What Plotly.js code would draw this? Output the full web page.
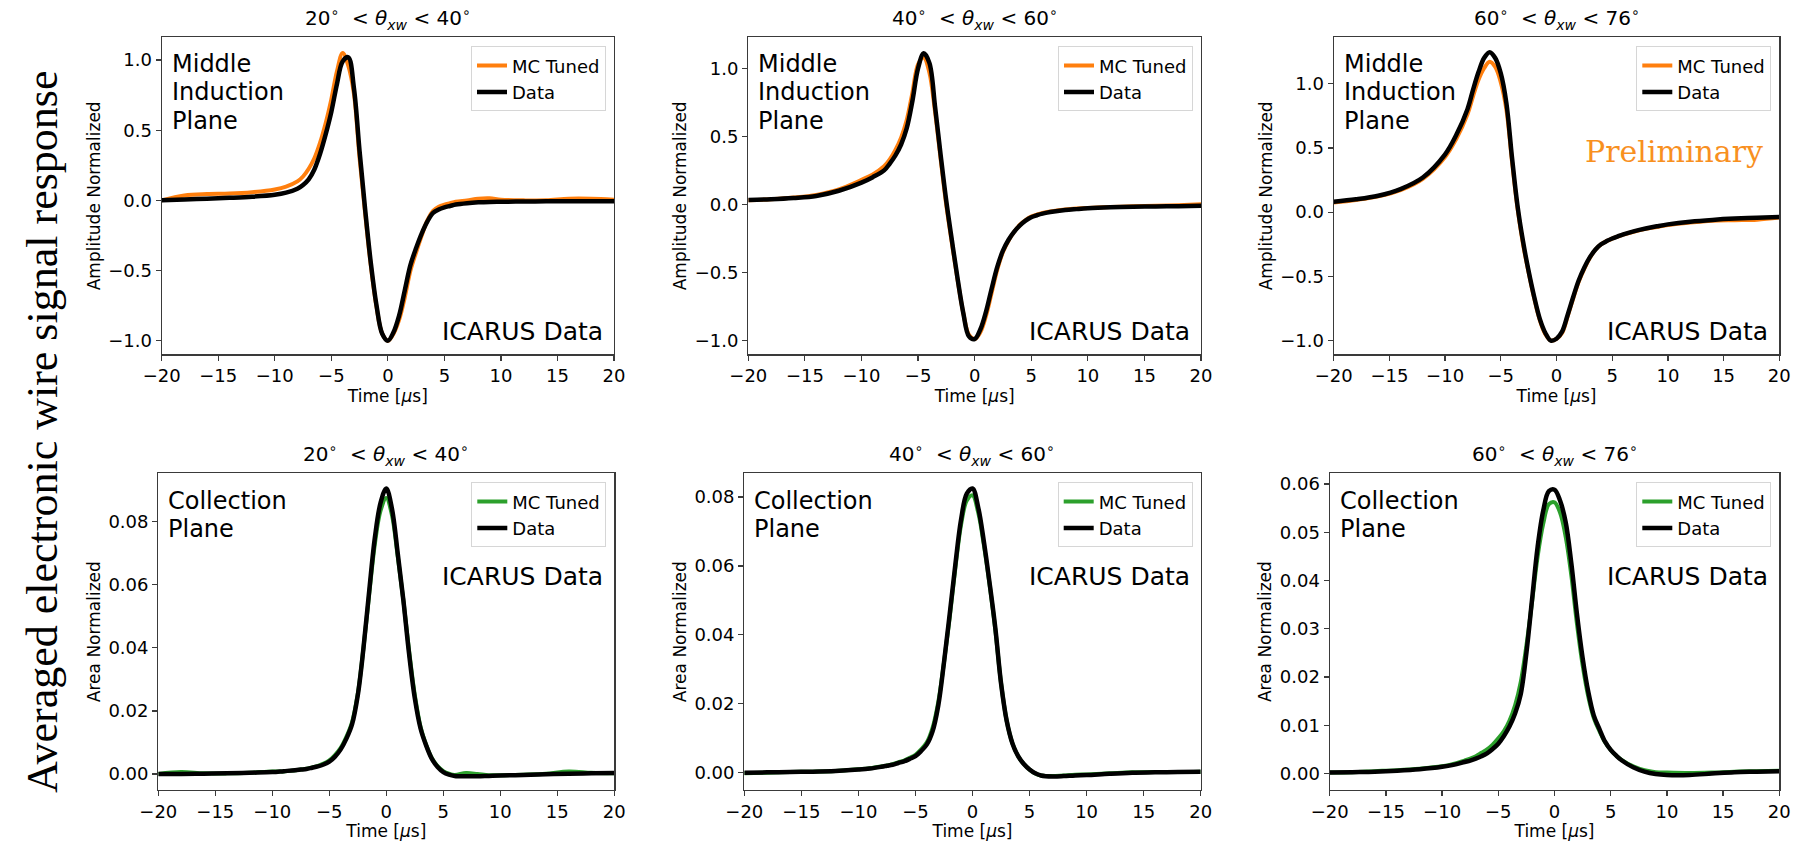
<!DOCTYPE html>
<html>
<head>
<meta charset="utf-8">
<script src="https://cdn.plot.ly/plotly-3.0.1.min.js"></script>
<style>html,body{margin:0;padding:0;background:#fff;}#chart{width:1801px;height:841px;}</style>
</head>
<body>
<div id="chart"></div>
<script>
// ---------------- data ----------------
const time = [-20,-18,-16,-14,-12,-10,-9,-8,-7.5,-7,-6.5,-6,-5.5,-5,-4.5,-4,-3.5,-3,-2.5,-2,-1.5,-1,-0.5,0,0.5,1,1.5,2,2.5,3,3.5,4,4.5,5,5.5,6,7,8,9,10,12,14,16,18,20];

const angleLow  = [20, 40, 60];
const angleHigh = [40, 60, 76];

// Middle induction plane, amplitude normalized
const ind20_mc   = [0.0,0.035,0.045,0.048,0.058,0.078,0.098,0.135,0.17,0.225,0.3,0.41,0.55,0.72,0.92,1.05,0.96,0.76,0.3,-0.1,-0.47,-0.76,-0.95,-1.0,-0.95,-0.85,-0.69,-0.5,-0.37,-0.25,-0.14,-0.075,-0.045,-0.03,-0.02,-0.01,0.0,0.012,0.015,0.005,0.0,0.0,0.012,0.012,0.005];
const ind20_data = [0.0,0.007,0.012,0.018,0.026,0.04,0.055,0.083,0.11,0.15,0.22,0.33,0.47,0.63,0.83,0.99,1.02,0.8,0.35,-0.07,-0.45,-0.75,-0.95,-1.0,-0.94,-0.82,-0.64,-0.46,-0.34,-0.235,-0.15,-0.09,-0.065,-0.05,-0.04,-0.03,-0.02,-0.014,-0.011,-0.01,-0.008,-0.007,-0.007,-0.007,-0.007];
const ind40_mc   = [0.03,0.037,0.05,0.07,0.11,0.18,0.22,0.28,0.33,0.4,0.49,0.62,0.82,1.03,1.08,0.97,0.68,0.33,-0.01,-0.29,-0.56,-0.8,-0.96,-0.99,-0.94,-0.82,-0.65,-0.48,-0.35,-0.265,-0.2,-0.15,-0.115,-0.09,-0.075,-0.063,-0.048,-0.038,-0.031,-0.026,-0.019,-0.014,-0.01,-0.006,0.0];
const ind40_data = [0.033,0.038,0.047,0.062,0.1,0.16,0.2,0.25,0.3,0.36,0.44,0.56,0.76,1.0,1.11,1.04,0.72,0.36,0.02,-0.27,-0.55,-0.8,-0.97,-0.99,-0.92,-0.79,-0.62,-0.46,-0.34,-0.26,-0.2,-0.155,-0.12,-0.095,-0.08,-0.068,-0.053,-0.042,-0.035,-0.029,-0.022,-0.018,-0.015,-0.013,-0.011];
const ind60_mc   = [0.075,0.095,0.123,0.172,0.26,0.43,0.57,0.76,0.9,1.03,1.12,1.17,1.13,1.01,0.8,0.4,0.03,-0.25,-0.47,-0.67,-0.84,-0.95,-1.0,-0.985,-0.94,-0.81,-0.67,-0.54,-0.44,-0.355,-0.29,-0.25,-0.225,-0.205,-0.19,-0.175,-0.15,-0.13,-0.115,-0.1,-0.08,-0.066,-0.062,-0.058,-0.042];
const ind60_data = [0.082,0.1,0.128,0.18,0.27,0.45,0.6,0.8,0.95,1.09,1.2,1.245,1.2,1.08,0.85,0.43,0.05,-0.23,-0.46,-0.66,-0.83,-0.94,-1.0,-0.985,-0.93,-0.8,-0.66,-0.53,-0.43,-0.35,-0.29,-0.25,-0.225,-0.205,-0.188,-0.172,-0.147,-0.127,-0.11,-0.095,-0.074,-0.06,-0.05,-0.043,-0.038];

// Collection plane, area normalized
const col20_mc   = [0.0,0.0006,0.0002,0.0002,0.0004,0.0008,0.0008,0.0012,0.0014,0.0017,0.0021,0.0026,0.0033,0.0043,0.006,0.0083,0.0118,0.0165,0.0255,0.04,0.057,0.073,0.0835,0.0875,0.082,0.069,0.055,0.039,0.025,0.015,0.0092,0.005,0.0025,0.0009,0.0001,-0.0003,0.0003,0.0,-0.0004,-0.0004,-0.0002,0.0001,0.0008,0.0004,0.0002];
const col20_data = [0.0,0.0,0.0001,0.0002,0.0004,0.0006,0.0009,0.0012,0.0014,0.0016,0.002,0.0024,0.003,0.0039,0.0055,0.0078,0.0112,0.0158,0.025,0.04,0.058,0.075,0.086,0.0905,0.084,0.07,0.055,0.038,0.024,0.0145,0.009,0.0048,0.0022,0.0006,-0.0002,-0.0006,-0.0007,-0.0007,-0.0006,-0.0005,-0.0003,-0.0001,0.0001,0.0002,0.0003];
const col40_mc   = [-0.0002,0.0,0.0002,0.0003,0.0005,0.001,0.0013,0.0018,0.0021,0.0025,0.003,0.0035,0.0043,0.0052,0.0068,0.0088,0.013,0.0205,0.032,0.045,0.0595,0.072,0.079,0.0805,0.0755,0.066,0.0545,0.0415,0.026,0.015,0.0085,0.0048,0.0025,0.0009,-0.0002,-0.0008,-0.001,-0.0008,-0.0006,-0.0005,-0.0002,0.0001,0.0002,0.0002,0.0003];
const col40_data = [0.0,0.0001,0.0002,0.0003,0.0005,0.0009,0.0012,0.0017,0.002,0.0023,0.0028,0.0033,0.004,0.0048,0.0063,0.0082,0.012,0.0195,0.032,0.046,0.0605,0.0735,0.081,0.0825,0.077,0.067,0.055,0.042,0.026,0.015,0.0085,0.0048,0.0025,0.0009,-0.0002,-0.0008,-0.0011,-0.001,-0.0008,-0.0007,-0.0003,0.0,0.0001,0.0002,0.0003];
const col60_mc   = [0.0002,0.0003,0.0005,0.0007,0.001,0.0015,0.002,0.0027,0.0031,0.0036,0.0043,0.005,0.006,0.0073,0.0088,0.011,0.0142,0.019,0.0265,0.0355,0.045,0.0518,0.0558,0.0562,0.054,0.049,0.041,0.031,0.0225,0.016,0.0115,0.0088,0.0065,0.0049,0.0037,0.0028,0.0015,0.0007,0.0003,0.0002,0.0001,0.0002,0.0004,0.0005,0.0006];
const col60_data = [0.0002,0.0003,0.0004,0.0006,0.0009,0.0014,0.0018,0.0024,0.0027,0.0031,0.0036,0.0042,0.0051,0.0062,0.0078,0.0098,0.0125,0.0165,0.025,0.036,0.047,0.0545,0.0585,0.0588,0.0565,0.052,0.0435,0.033,0.024,0.017,0.012,0.0092,0.0066,0.0049,0.0037,0.0027,0.0013,0.0004,-0.0001,-0.0003,-0.0003,0.0,0.0003,0.0004,0.0005];

const seriesNames = ['MC Tuned', 'Data'];
const xTickVals = [-20, -15, -10, -5, 0, 5, 10, 15, 20];

// ---------------- layout helpers ----------------
const W = 1801, H = 841;
const px = v => v / W;
const py = v => 1 - v / H;

const panels = [
  {mc: ind20_mc, data: ind20_data, mcColor: '#ff7f0e', yTitle: 'Amplitude Normalized', xd: [161.7, 614], yd: [37.3, 354.3], yr: [-1.097, 1.162], dtick: 0.5, fmt: '.1f', row: 0, ang: 0},
  {mc: ind40_mc, data: ind40_data, mcColor: '#ff7f0e', yTitle: 'Amplitude Normalized', xd: [748.3, 1201], yd: [37.3, 354.3], yr: [-1.102, 1.228], dtick: 0.5, fmt: '.1f', row: 0, ang: 1},
  {mc: ind60_mc, data: ind60_data, mcColor: '#ff7f0e', yTitle: 'Amplitude Normalized', xd: [1333.7, 1779.3], yd: [37.3, 354.3], yr: [-1.106, 1.361], dtick: 0.5, fmt: '.1f', row: 0, ang: 2},
  {mc: col20_mc, data: col20_data, mcColor: '#2ca02c', yTitle: 'Area Normalized', xd: [158.3, 614.3], yd: [473.3, 790], yr: [-0.00507, 0.0953], dtick: 0.02, fmt: '.2f', row: 1, ang: 0},
  {mc: col40_mc, data: col40_data, mcColor: '#2ca02c', yTitle: 'Area Normalized', xd: [744.3, 1200.7], yd: [473.3, 790], yr: [-0.00503, 0.0869], dtick: 0.02, fmt: '.2f', row: 1, ang: 1},
  {mc: col60_mc, data: col60_data, mcColor: '#2ca02c', yTitle: 'Area Normalized', xd: [1329.7, 1779.3], yd: [473.3, 790], yr: [-0.0034, 0.0622], dtick: 0.01, fmt: '.2f', row: 1, ang: 2}
];

const FONT = 'DejaVu Sans';
const traces = [];
const layout = {
  width: W, height: H,
  margin: {l: 0, r: 0, t: 0, b: 0},
  paper_bgcolor: '#fff', plot_bgcolor: '#fff',
  font: {family: FONT, size: 17, color: '#000'},
  annotations: [],
  showlegend: true
};

panels.forEach((p, i) => {
  const n = i === 0 ? '' : String(i + 1);
  const xa = 'x' + n, ya = 'y' + n;
  const lg = 'legend' + n;
  traces.push({x: time, y: p.mc, type: 'scatter', mode: 'lines', name: seriesNames[0],
    xaxis: xa, yaxis: ya, legend: lg,
    line: {color: p.mcColor, width: 4, shape: 'spline', smoothing: 1}});
  traces.push({x: time, y: p.data, type: 'scatter', mode: 'lines', name: seriesNames[1],
    xaxis: xa, yaxis: ya, legend: lg,
    line: {color: '#000000', width: 4.5, shape: 'spline', smoothing: 1}});

  const axCommon = {showline: true, mirror: true, linecolor: '#3a3a3a', linewidth: 1.2,
    showgrid: false, zeroline: false, ticks: 'outside', ticklen: 5, tickwidth: 1.2,
    tickcolor: '#3a3a3a', tickfont: {family: FONT, size: 18, color: '#000'}};
  layout['xaxis' + n] = Object.assign({}, axCommon, {
    domain: [px(p.xd[0]), px(p.xd[1])], anchor: ya, range: [-20, 20],
    tickvals: xTickVals,
    title: {text: 'Time [<i>μ</i>s]', font: {family: FONT, size: 17, color: '#000'}, standoff: 3}
  });
  layout['yaxis' + n] = Object.assign({}, axCommon, {
    domain: [py(p.yd[1]), py(p.yd[0])], anchor: xa, range: p.yr,
    tick0: 0, dtick: p.dtick, tickformat: p.fmt,
    title: {text: p.yTitle, font: {family: FONT, size: 17, color: '#000'}, standoff: 3}
  });
  layout[lg] = {
    x: px(p.xd[1] - 8), xanchor: 'right', y: py(p.yd[0] + 9), yanchor: 'top',
    bgcolor: 'rgba(255,255,255,0.85)', bordercolor: '#d6d6d6', borderwidth: 1,
    font: {family: FONT, size: 18, color: '#000'}, tracegroupgap: 0
  };

  // subplot title
  layout.annotations.push({
    xref: 'paper', yref: 'paper', x: px((p.xd[0] + p.xd[1]) / 2), y: py(p.yd[0]),
    xanchor: 'center', yanchor: 'bottom', yshift: 2, showarrow: false,
    text: angleLow[p.ang] + '<sup>∘</sup>  &lt; <i>θ</i><sub><i>xw</i></sub> &lt; ' + angleHigh[p.ang] + '<sup>∘</sup>',
    font: {family: FONT, size: 20, color: '#000'}
  });

  // plane label lines
  const lines = p.row === 0 ? ['Middle', 'Induction', 'Plane'] : ['Collection', 'Plane'];
  const lineY = p.row === 0 ? [64, 92.5, 121] : [500.5, 528.5];
  lines.forEach((t, k) => {
    layout.annotations.push({
      xref: 'paper', yref: 'paper', x: px(p.xd[0] + 8), y: py(lineY[k]),
      xanchor: 'left', yanchor: 'middle', showarrow: false, text: t,
      font: {family: FONT, size: 24, color: '#000'}
    });
  });
  // ICARUS Data
  layout.annotations.push({
    xref: 'paper', yref: 'paper', x: px(p.xd[1] - 9), y: py(p.row === 0 ? 331 : 576.5),
    xanchor: 'right', yanchor: 'middle', showarrow: false, text: 'ICARUS Data',
    font: {family: FONT, size: 25, color: '#000'}
  });
});

// Preliminary
layout.annotations.push({
  xref: 'paper', yref: 'paper', x: px(1583), y: py(152), xanchor: 'left', yanchor: 'middle',
  showarrow: false, text: 'Preliminary', font: {family: 'DejaVu Serif', size: 30, color: '#f8901f'}
});
// Global side title
layout.annotations.push({
  xref: 'paper', yref: 'paper', x: px(42), y: py(432), xanchor: 'center', yanchor: 'middle',
  textangle: -90, showarrow: false, text: 'Averaged electronic wire signal response',
  font: {family: 'Liberation Serif', size: 44, color: '#000'}
});

Plotly.newPlot('chart', traces, layout, {displayModeBar: false, staticPlot: true});
</script>
</body>
</html>
